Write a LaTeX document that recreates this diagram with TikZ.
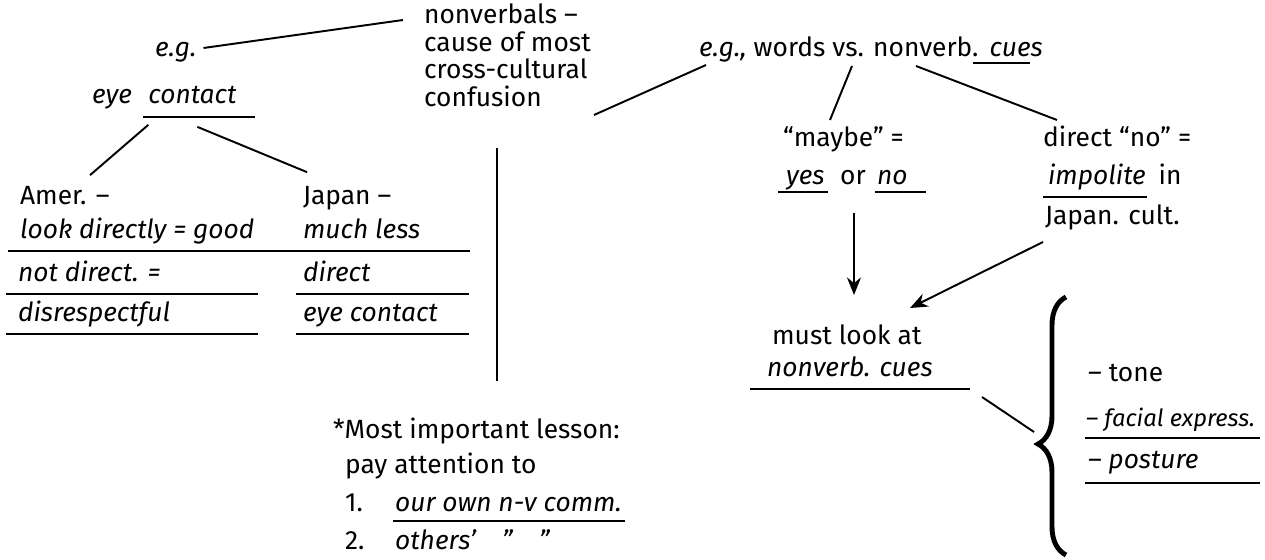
\documentclass[tikz,border=0pt]{standalone}
\usepackage{fontspec}
\setmainfont{Fira Sans}
\usetikzlibrary{positioning,decorations.pathreplacing,arrows.meta}

\begin{document}
\begin{tikzpicture}[x=0.02cm, y=-0.02cm,
    t/.style={inner sep=1pt, anchor=west, text height=11pt, text depth=3.5pt, font=\fontsize{15}{18}\selectfont},
    it/.style={t, font=\fontsize{15}{18}\selectfont\itshape},
    ln/.style={line width=1.1pt},
    ul/.style={line width=0.9pt},
    arr/.style={ln, -{Stealth[length=10pt, width=8pt]}}]
  \useasboundingbox (0,0) rectangle (1265,560);

  \node[t] (nv) at (422,17) {nonverbals --};
  \node[t] (cause) at (422,45) {cause of most};
  \node[t] (cross) at (422,72) {cross-cultural};
  \node[t] (conf) at (422,100) {confusion};

  \node[it] (eg) at (153,50) {e.g.};
  \node[it] (eye) at (90,97) {eye};
  \node[it, right=7pt of eye] (contact) {contact};
  \node[t] (amer) at (18,198) {Amer. --};
  \node[t] (jap) at (301,198) {Japan --};
  \node[it] (look) at (18,232) {look directly = good};
  \node[it] (much) at (301,232) {much less};
  \node[it] (notd) at (16,275) {not direct. =};
  \node[it] (dir) at (301,275) {direct};
  \node[it] (dis) at (16,315) {disrespectful};
  \node[it] (eye2) at (301,315) {eye contact};

  \node[t] (words) at (697,50) {\itshape e.g.,\upshape\ words vs. nonverb.};
  \node[it, right=4pt of words] (cues) {cues};
  \node[t] (maybe) at (781,140) {“maybe” =};
  \node[it] (yes) at (784,178) {yes};
  \node[t] (or) at (838,178) {or};
  \node[it] (no) at (875,178) {no};
  \node[t] (direct) at (1041,140) {direct “no” =};
  \node[it] (impol) at (1046,178) {impolite};
  \node[t, right=5pt of impol] (in) {in};
  \node[t] (jcult) at (1043,218) {Japan. cult.};
  \node[t] (must) at (770,338) {must look at};
  \node[it] (nvcues) at (765,370) {nonverb. cues};

  \node[t] (tone) at (1086,375) {-- tone};
  \node[it, font=\fontsize{13.5}{16}\selectfont\itshape] (facial) at (1084,420) {-- facial express.};
  \node[it] (post) at (1086,462) {-- posture};

  \node[t] (lesson) at (331,432) {*Most important lesson:};
  \node[t] (pay) at (343,467) {pay attention to};
  \node[t] (one) at (343,505) {1.};
  \node[it] (own) at (393,505) {our own n-v comm.};
  \node[t] (two) at (343,543) {2.};
  \node[it] (others) at (393,543) {others’\quad ”\quad ”};

  \coordinate (btop) at (1066,297);
  \coordinate (bbot) at (1066,555);
  \coordinate (btip) at (1034,432);

  \draw[ul] (143,117) -- (255,117);
  \draw[ul] (8,251) -- (470,251);
  \draw[ul] (6,294) -- (258,294);
  \draw[ul] (296,294) -- (469,294);
  \draw[ul] (6,334) -- (258,334);
  \draw[ul] (296,334) -- (469,334);
  \draw[ul] (973,63) -- (1030,63);
  \draw[ul] (778,192) -- (828,192);
  \draw[ul] (875,192) -- (926,192);
  \draw[ul] (1043,197) -- (1147,197);
  \draw[ul] (750,389) -- (970,389);
  \draw[ul] (1085,438) -- (1260,438);
  \draw[ul] (1085,483) -- (1260,483);
  \draw[ul] (393,521) -- (625,521);

  \draw[ln] ([shift={(5,-2)}]eg.east) -- ([shift={(-19,3)}]nv.west);
  \draw[ln] ([shift={(2,13)}]contact.south west) -- ([shift={(72,-8)}]amer.north west);
  \draw[ln] ([shift={(51,15)}]contact.south west) -- ([shift={(6,-11)}]jap.north west);
  \draw[ln] ([shift={(172,15)}]conf.west) -- ([shift={(9,15)}]words.west);
  \draw[ln] ([shift={(75,48)}]conf.west) -- ([shift={(166,-51)}]lesson.west);
  \draw[ln] ([shift={(155,16)}]words.west) -- ([shift={(49,-20)}]maybe.west);
  \draw[ln] ([shift={(219,16)}]words.west) -- ([shift={(16,-20)}]direct.west);
  \draw[arr] ([shift={(16,35)}]or.west) -- ([shift={(84,-43)}]must.west);
  \draw[arr] ([shift={(0,24)}]jcult.west) -- ([shift={(140,-30)}]must.west);
  \draw[ln] ([shift={(217,27)}]nvcues.west) -- (btip);
  \draw[line width=2.8pt, decorate, decoration={brace, amplitude=0.56cm, aspect=0.43}] (bbot) -- (btop);
\end{tikzpicture}
\end{document}
